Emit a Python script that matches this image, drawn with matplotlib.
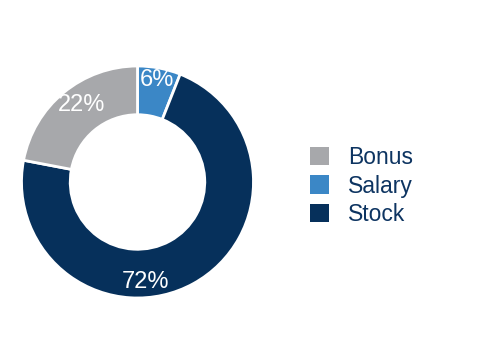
import matplotlib
matplotlib.use('Agg')
import matplotlib.pyplot as plt
from matplotlib.patches import Patch

# data (clockwise from 12 o'clock)
labels = ['Salary', 'Stock', 'Bonus']
values = [6, 72, 22]
colors = ['#3b87c6', '#06305b', '#a7a8ab']
legend_order = ['Bonus', 'Salary', 'Stock']
# label positions in data units (radius 1 = outer edge)
label_pos = {'Salary': (0.17, 0.88), 'Stock': (0.07, -0.86), 'Bonus': (-0.48, 0.66)}

plt.rcParams['font.family'] = ['Liberation Sans', 'DejaVu Sans']

fig = plt.figure(figsize=(4.8, 3.64), dpi=100)
ax = fig.add_axes([0.0448, 0.1813, 0.4833, 0.6374])

wedges, _ = ax.pie(values, colors=colors, startangle=90, counterclock=False,
                   radius=1.0, wedgeprops=dict(width=0.42, edgecolor='white', linewidth=2))
ax.set_xlim(-1, 1)
ax.set_ylim(-1, 1)
ax.set_aspect('equal')
ax.axis('off')

for lab, val in zip(labels, values):
    x, y = label_pos[lab]
    ax.text(x, y, f'{val}%', color='white', fontsize=17, ha='center', va='center')

cmap = dict(zip(labels, colors))
handles = [Patch(facecolor=cmap[l], edgecolor='none') for l in legend_order]
leg = fig.legend(handles, legend_order, loc='center left', bbox_to_anchor=(310 / 480, 1 - 186 / 364),
                 frameon=False, fontsize=16.5, handlelength=0.85, handleheight=0.85,
                 handletextpad=0.8, labelspacing=0.24, borderpad=0, borderaxespad=0)
for t in leg.get_texts():
    t.set_color('#0d3461')

plt.savefig('out.png', dpi=100)
